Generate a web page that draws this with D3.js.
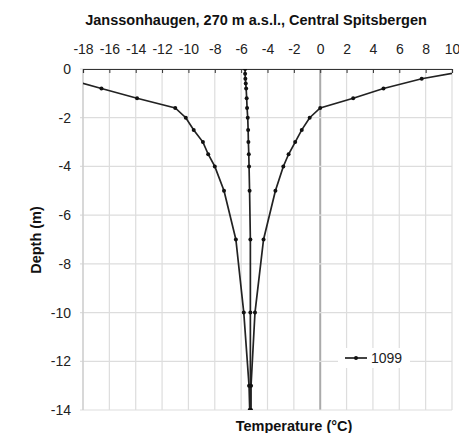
<!DOCTYPE html>
<html><head><meta charset="utf-8">
<script src="https://cdn.jsdelivr.net/npm/d3@7"></script>
<style>
body{margin:0;background:#fff;}
text{font-family:"Liberation Sans",Arial,sans-serif;}
</style></head>
<body><svg id="c" width="459" height="433"></svg>
<script>
const title = "Janssonhaugen, 270 m a.s.l., Central Spitsbergen";
const xTicks = [-18,-16,-14,-12,-10,-8,-6,-4,-2,0,2,4,6,8,10];
const yTicks = [0,-2,-4,-6,-8,-10,-12,-14];
const depths = [0,-0.4,-0.8,-1.2,-1.6,-2,-2.5,-3,-3.5,-4,-5,-7,-10,-13,-14];
const minTemp = [-22,-19.3,-16.6,-13.9,-11.0,-10.2,-9.6,-8.9,-8.5,-8.0,-7.3,-6.4,-5.8,-5.4,-5.35];
const maxTemp = [11.8,7.7,4.8,2.5,0.0,-0.8,-1.4,-1.9,-2.4,-2.8,-3.4,-4.3,-4.95,-5.25,-5.25];
const meanDepths = [0,-0.2,-0.4,-0.6,-0.8,-1.2,-1.6,-2,-2.5,-3,-3.5,-4,-5,-7,-10,-13,-14];
const meanTemp = [-5.7,-5.7,-5.68,-5.65,-5.62,-5.58,-5.55,-5.5,-5.47,-5.45,-5.42,-5.4,-5.36,-5.3,-5.3,-5.3,-5.3];
const seriesName = "1099";

const svg = d3.select("#c");
const L=83,R=452,T=69,B=410;
const x = d3.scaleLinear().domain([-18,10]).range([L,R]);
const y = d3.scaleLinear().domain([0,-14]).range([T,B]);

svg.append("defs").append("clipPath").attr("id","clip")
 .append("rect").attr("x",L).attr("y",T).attr("width",R-L).attr("height",B-T);

// gridlines
const g = svg.append("g");
g.selectAll(".vg").data(xTicks).enter().append("line")
 .attr("x1",d=>x(d)).attr("x2",d=>x(d)).attr("y1",T).attr("y2",B)
 .attr("stroke",d=>d===0?"#aaa":"#ddd").attr("stroke-width",d=>d===0?2:1.2);
g.selectAll(".hg").data(yTicks).enter().append("line")
 .attr("x1",L-3).attr("x2",R).attr("y1",d=>y(d)).attr("y2",d=>y(d))
 .attr("stroke","#ddd").attr("stroke-width",1.2);
g.append("line").attr("x1",L).attr("x2",L).attr("y1",T).attr("y2",B).attr("stroke","#ccc").attr("stroke-width",1.2);

// top axis
const xAxis = d3.axisTop(x).tickValues(xTicks).tickSize(-4).tickPadding(15).tickFormat(d3.format("d"));
const ax = svg.append("g").attr("transform",`translate(0,${T})`).call(xAxis);
ax.select(".domain").attr("stroke","#333").attr("stroke-width",1.2);
ax.selectAll(".tick line").attr("stroke","#333");
ax.selectAll("text").attr("font-size",14).attr("fill","#222").text(d=>d<0?"-"+Math.abs(d):d);

// left axis labels
const yAxis = d3.axisLeft(y).tickValues(yTicks).tickSize(0).tickPadding(12).tickFormat(d=>d<0?"-"+Math.abs(d):d);
const ay = svg.append("g").attr("transform",`translate(${L},0)`).call(yAxis);
ay.select(".domain").remove();
ay.selectAll("text").attr("font-size",14).attr("fill","#222");

// series
const plot = svg.append("g").attr("clip-path","url(#clip)");
const line = d3.line().x(d=>x(d[0])).y(d=>y(d[1]));
const sets = [
 d3.zip(minTemp,depths),
 d3.zip(maxTemp,depths),
 d3.zip(meanTemp,meanDepths)
];
sets.forEach(s=>{
 plot.append("path").datum(s).attr("d",line).attr("fill","none").attr("stroke","#222").attr("stroke-width",1.7);
 plot.selectAll(null).data(s).enter().append("circle")
  .attr("cx",d=>x(d[0])).attr("cy",d=>y(d[1])).attr("r",2).attr("fill","#111");
});

// legend
const lg = svg.append("g");
lg.append("rect").attr("x",338).attr("y",348).attr("width",72).attr("height",20).attr("fill","#fff");
lg.append("line").attr("x1",345).attr("x2",367).attr("y1",358).attr("y2",358).attr("stroke","#222").attr("stroke-width",1.7);
lg.append("circle").attr("cx",356).attr("cy",358).attr("r",2).attr("fill","#111");
lg.append("text").attr("x",371).attr("y",363).attr("font-size",14).attr("fill","#222").text(seriesName);

// titles
svg.append("text").attr("x",256).attr("y",25).attr("text-anchor","middle").attr("font-size",14.5).attr("font-weight","bold").attr("fill","#111").text(title);
svg.append("text").attr("x",294).attr("y",431).attr("text-anchor","middle").attr("font-size",14.5).attr("font-weight","bold").attr("fill","#111").text("Temperature (°C)");
svg.append("text").attr("transform","translate(41,240) rotate(-90)").attr("text-anchor","middle").attr("font-size",14.5).attr("font-weight","bold").attr("fill","#111").text("Depth (m)");
</script></body></html>
